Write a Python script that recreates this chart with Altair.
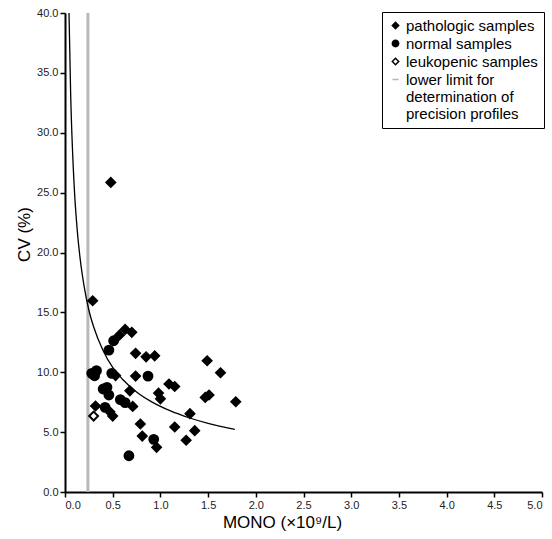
import altair as alt
import pandas as pd

# --- data ---
path_x = [0.48, 0.29, 0.57, 0.63, 0.70, 0.74, 0.85, 0.94, 0.53, 0.74, 1.09, 1.15,
          0.68, 0.98, 1.00, 0.71, 0.32, 0.47, 0.50, 1.31, 0.79, 0.81, 0.96, 1.15,
          1.27, 1.36, 1.49, 1.63, 1.47, 1.51, 1.79]
path_y = [25.85, 15.97, 13.10, 13.58, 13.33, 11.58, 11.29, 11.37, 9.72, 9.68, 9.02, 8.81,
          8.45, 8.26, 7.78, 7.15, 7.18, 6.70, 6.34, 6.54, 5.68, 4.67, 3.73, 5.43,
          4.32, 5.12, 10.96, 9.96, 7.90, 8.10, 7.54]
norm_x = [0.51, 0.46, 0.28, 0.31, 0.33, 0.49, 0.87, 0.40, 0.44, 0.46, 0.58, 0.63, 0.42, 0.93, 0.67]
norm_y = [12.63, 11.85, 9.91, 9.71, 10.13, 9.91, 9.68, 8.60, 8.74, 8.10, 7.72, 7.47, 7.07, 4.40, 3.03]
leuk_x = [0.30]
leuk_y = [6.34]

curve_x = [0.042, 0.06, 0.08, 0.10, 0.13, 0.16, 0.20, 0.25, 0.30, 0.40, 0.50, 0.60,
           0.75, 0.90, 1.10, 1.30, 1.50, 1.78]
curve_y = [40.0, 33.0, 28.3, 25.0, 21.7, 19.4, 17.2, 15.2, 13.8, 11.8, 10.4, 9.44,
           8.36, 7.57, 6.79, 6.20, 5.73, 5.23]

limit_x = [0.24]

categories = ["pathologic samples", "normal samples", "leukopenic samples",
              "lower limit for determination of precision profiles"]

pts = pd.DataFrame(
    {"x": path_x + norm_x + leuk_x,
     "y": path_y + norm_y + leuk_y,
     "type": [categories[0]] * len(path_x) + [categories[1]] * len(norm_x) + [categories[2]] * len(leuk_x)}
)
curve = pd.DataFrame({"x": curve_x, "y": curve_y})
limit = pd.DataFrame({"x": limit_x})

FONT = "Liberation Sans"

xscale = alt.Scale(domain=[0, 5], nice=False, zero=True)
yscale = alt.Scale(domain=[0, 40], nice=False)

xaxis = alt.Axis(values=[i * 0.5 for i in range(11)], format=".1f",
                 title="MONO (×10⁹/L)", titlePadding=4, titleX=217)
yaxis = alt.Axis(values=[i * 5 for i in range(9)], format=".1f",
                 title="CV (%)", titlePadding=3, titleY=221)

rule = alt.Chart(limit).mark_rule(color="#b9b9b9", strokeWidth=3).encode(
    x=alt.X("x:Q", scale=xscale, axis=xaxis)
)

line = alt.Chart(curve).mark_line(color="black", strokeWidth=1.3, interpolate="monotone", clip=True).encode(
    x=alt.X("x:Q", scale=xscale, axis=xaxis),
    y=alt.Y("y:Q", scale=yscale, axis=yaxis),
)

leg = alt.Legend(
    title=None, orient="none", legendX=317, legendY=-1,
    strokeColor="black", fillColor="white", padding=6,
    labelFont=FONT, labelFontSize=15, labelColor="black", labelLimit=300,
    symbolSize=40, symbolStrokeWidth=1.5, rowPadding=2, labelOffset=3, symbolOffset=0,
    labelExpr="datum.label == 'lower limit for determination of precision profiles' ? "
              "['lower limit for', 'determination of', 'precision profiles'] : datum.label",
)

points = alt.Chart(pts).mark_point(opacity=1, filled=False, size=78).encode(
    x=alt.X("x:Q", scale=xscale, axis=xaxis),
    y=alt.Y("y:Q", scale=yscale, axis=yaxis),
    shape=alt.Shape("type:N", scale=alt.Scale(domain=categories,
                                               range=["diamond", "circle", "diamond", "stroke"]), legend=leg),
    fill=alt.Fill("type:N", scale=alt.Scale(domain=categories,
                                             range=["black", "black", "white", "#b9b9b9"]), legend=leg),
    stroke=alt.Stroke("type:N", scale=alt.Scale(domain=categories,
                                                 range=["black", "black", "black", "#b9b9b9"]), legend=leg),
)

chart = alt.layer(rule, line, points).properties(
    width=477, height=479,
    autosize=alt.AutoSizeParams(type="none"),
    padding={"left": 65, "top": 13, "right": 10, "bottom": 47},
).configure_view(stroke=None).configure_axis(
    grid=False, domainColor="black", domainWidth=2, tickColor="black", tickWidth=1.5, tickSize=5,
    labelFont=FONT, labelFontSize=11, labelColor="#222222", labelPadding=2,
    titleFont=FONT, titleFontSize=17, titleFontWeight="normal", titleColor="black",
)

chart.save("out.html", embed_options={"renderer": "svg", "actions": False})
